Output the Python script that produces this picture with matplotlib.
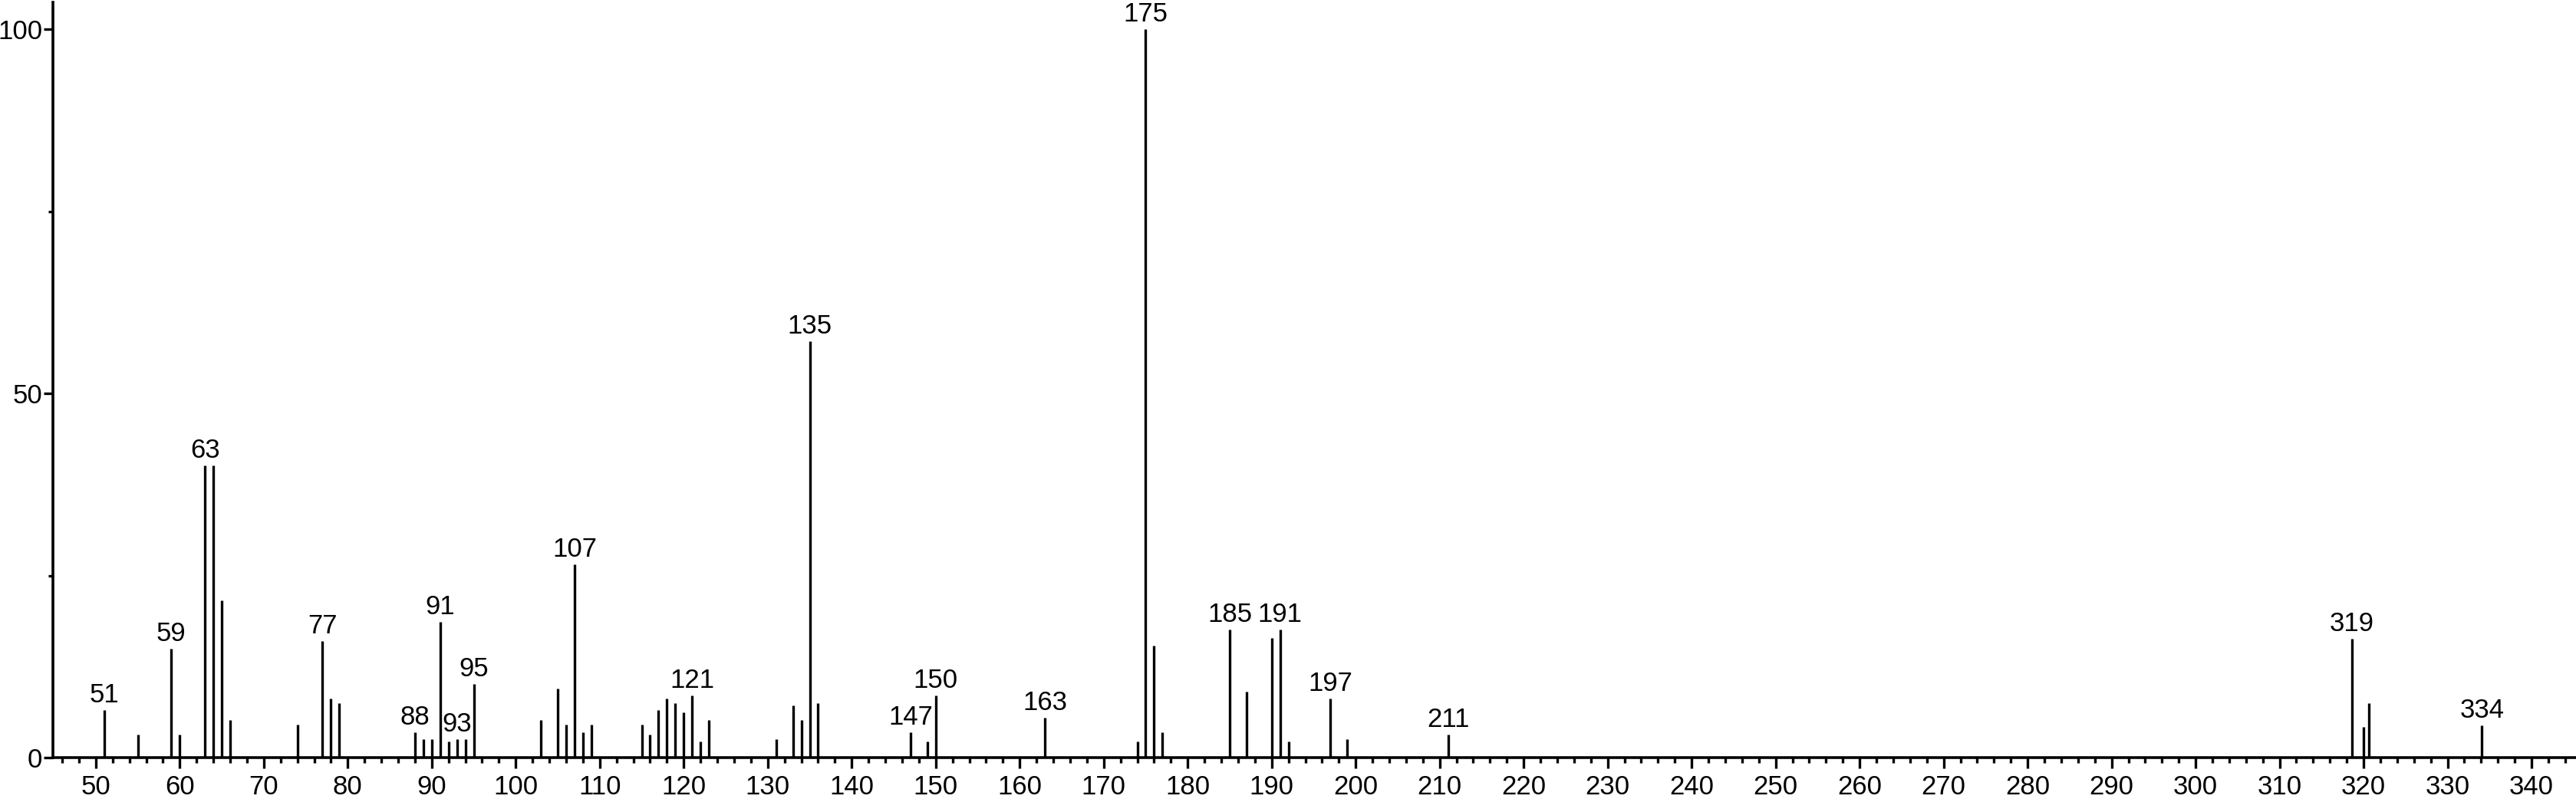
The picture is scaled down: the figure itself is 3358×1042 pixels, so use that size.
import matplotlib
matplotlib.use("Agg")
import matplotlib.pyplot as plt
from matplotlib.ticker import MultipleLocator

plt.rcParams['font.family'] = ['Liberation Sans', 'DejaVu Sans']

# ── Data ──────────────────────────────────────────────────────────
mz = [51, 55, 59, 60, 63, 64, 65, 66, 74, 77, 78, 79,
      88, 89, 90, 91, 92, 93, 94, 95,
      103, 105, 106, 107, 108, 109,
      115, 116, 117, 118, 119, 120, 121, 122, 123,
      131, 133, 134, 135, 136, 147, 149, 150, 163,
      174, 175, 176, 177, 185, 187, 190, 191, 192, 197, 199, 211,
      318.6, 320.0, 320.6, 334.1]
intensity = [6.5, 3.2, 15.0, 3.2, 40.1, 40.1, 21.6, 5.2, 4.5, 16.0, 8.1, 7.5,
             3.5, 2.5, 2.5, 18.6, 2.2, 2.5, 2.5, 10.1,
             5.2, 9.5, 4.5, 26.5, 3.5, 4.5,
             4.5, 3.2, 6.5, 8.1, 7.5, 6.2, 8.5, 2.2, 5.2,
             2.5, 7.2, 5.2, 57.2, 7.5, 3.5, 2.2, 8.5, 5.5,
             2.2, 100.0, 15.4, 3.5, 17.6, 9.1, 16.4, 17.6, 2.2, 8.1, 2.5, 3.2,
             16.3, 4.2, 7.5, 4.4]

label_mz = [51, 59, 63, 77, 88, 91, 93, 95, 107, 121, 135, 147, 150,
            163, 175, 185, 191, 197, 211, 318.6, 334.1]
label_text = ['51', '59', '63', '77', '88', '91', '93', '95', '107', '121',
              '135', '147', '150', '163', '175', '185', '191', '197', '211',
              '319', '334']

# ── Figure ────────────────────────────────────────────────────────
W, H = 3358, 1042
fig = plt.figure(figsize=(W / 100, H / 100), dpi=100)
ax = fig.add_axes([69 / W, 54 / H, (3357 - 69) / W, (988 - 3) / H])

ax.vlines(mz, 0, intensity, color='black', lw=2.4)

peak_height = dict(zip(mz, intensity))
for m, t in zip(label_mz, label_text):
    # label sits just above the stem, centred on it
    ax.annotate(t, (m, peak_height[m]), xytext=(0, 3),
                textcoords='offset pixels', ha='center', va='bottom',
                fontsize=25)

ax.set_xlim(44.9, 345.2)
ax.set_ylim(0, 103.7)

ax.spines['top'].set_visible(False)
ax.spines['right'].set_visible(False)
ax.spines['left'].set_linewidth(2.6)
ax.spines['bottom'].set_linewidth(2.6)

ax.set_xticks(range(50, 341, 10))
ax.xaxis.set_minor_locator(MultipleLocator(2))
ax.yaxis.set_major_locator(MultipleLocator(50))
ax.yaxis.set_minor_locator(MultipleLocator(25))

ax.tick_params(axis='x', which='major', length=10, width=2.4, pad=6,
               labelsize=25, direction='out')
ax.tick_params(axis='x', which='minor', length=5, width=2.4, direction='out')
ax.tick_params(axis='y', which='major', length=9, width=2.4, pad=1,
               labelsize=25, direction='out')
ax.tick_params(axis='y', which='minor', length=4.5, width=2.4, direction='out')

fig.savefig('out.png', dpi=100, facecolor='white')
